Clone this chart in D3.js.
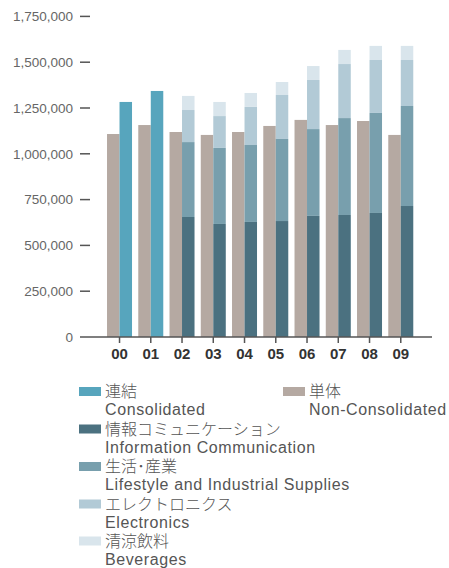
<!DOCTYPE html>
<html>
<head>
<meta charset="utf-8">
<script src="https://cdn.jsdelivr.net/npm/d3@7"></script>
<style>
  body { margin: 0; background: #fff; }
  svg { display: block; }
</style>
</head>
<body>
<div id="chart"></div>
<script>
// Data (yen, thousands)

var years = ["00", "01", "02", "03", "04", "05", "06", "07", "08", "09"];
var nonConsolidated = [1108000, 1157000, 1119000, 1103000, 1119000, 1152000, 1185000, 1157000, 1179000, 1103000];
var consolidated = [1283000, 1343000, null, null, null, null, null, null, null, null];
var infoComm = [null, null, 655000, 617000, 628000, 633000, 661000, 666000, 677000, 715000];
var lifestyle = [null, null, 409000, 415000, 420000, 448000, 474000, 529000, 546000, 546000];
var electronics = [null, null, 175000, 174000, 208000, 240000, 268000, 295000, 289000, 251000];
var beverages = [null, null, 77000, 77000, 76000, 71000, 76000, 77000, 77000, 77000];

var yTicks = [0, 250000, 500000, 750000, 1000000, 1250000, 1500000, 1750000];

var legendJa = ["連結", "単体", "情報コミュニケーション", "生活･産業", "エレクトロニクス", "清涼飲料"];
var legendEn = ["Consolidated", "Non-Consolidated", "Information Communication", "Lifestyle and Industrial Supplies", "Electronics", "Beverages"];

var colors = {
  consolidated: "#57a5bd",
  nonConsolidated: "#b5a9a2",
  info: "#4b7180",
  life: "#789fad",
  elec: "#b2cad6",
  bev: "#d9e5ec"
};
var legendColors = [colors.consolidated, colors.nonConsolidated, colors.info, colors.life, colors.elec, colors.bev];

var width = 449, height = 568;

var svg = d3.select("#chart")
  .append("svg")
  .attr("width", width)
  .attr("height", height);

svg.append("rect")
  .attr("width", width)
  .attr("height", height)
  .style("fill", "#fff");

var x = d3.scaleBand()
  .domain(years)
  .range([103.9, 416.4])
  .paddingInner(0.2)
  .paddingOuter(0.1);

var y = d3.scaleLinear()
  .domain([0, 1750000])
  .range([337, 16.4]);

var barW = x.bandwidth() / 2;

// stacked segments, only for years that have segment data
var rows = years.map(function(yr, i) {
  return {year: yr, info: infoComm[i], life: lifestyle[i], elec: electronics[i], bev: beverages[i]};
}).filter(function(d) { return d.info != null; });

var stack = d3.stack().keys(["info", "life", "elec", "bev"]);
var series = stack(rows);

// non-consolidated bars (left)
svg.append("g")
  .selectAll("rect")
  .data(years)
  .enter()
  .append("rect")
  .attr("x", function(d) { return x(d); })
  .attr("width", barW)
  .attr("y", function(d, i) { return y(nonConsolidated[i]); })
  .attr("height", function(d, i) { return y(0) - y(nonConsolidated[i]); })
  .style("fill", colors.nonConsolidated);

// consolidated bars (right), years 00-01
svg.append("g")
  .selectAll("rect")
  .data(years.filter(function(d, i) { return consolidated[i] != null; }))
  .enter()
  .append("rect")
  .attr("x", function(d) { return x(d) + barW; })
  .attr("width", barW)
  .attr("y", function(d) { return y(consolidated[years.indexOf(d)]); })
  .attr("height", function(d) { return y(0) - y(consolidated[years.indexOf(d)]); })
  .style("fill", colors.consolidated);

// segment stacks
svg.append("g")
  .selectAll("g")
  .data(series)
  .enter()
  .append("g")
  .style("fill", function(s) { return colors[s.key]; })
  .selectAll("rect")
  .data(function(s) { return s; })
  .enter()
  .append("rect")
  .attr("x", function(d) { return x(d.data.year) + barW; })
  .attr("width", barW)
  .attr("y", function(d) { return y(d[1]); })
  .attr("height", function(d) { return y(d[0]) - y(d[1]); });

// y axis: dashes + labels, no spine
var yAxis = svg.append("g").attr("class", "y axis");
yAxis.selectAll("line")
  .data(yTicks.filter(function(t) { return t > 0; }))
  .enter()
  .append("line")
  .attr("x1", 80)
  .attr("x2", 90)
  .attr("y1", function(d) { return y(d); })
  .attr("y2", function(d) { return y(d); })
  .style("stroke", "#555")
  .style("stroke-width", 1.5);

yAxis.selectAll("text")
  .data(yTicks)
  .enter()
  .append("text")
  .attr("x", 73)
  .attr("y", function(d) { return y(d); })
  .attr("dy", "0.35em")
  .attr("text-anchor", "end")
  .style("font-family", "'Liberation Sans', Arial, sans-serif")
  .style("font-size", "13.5px")
  .style("fill", "#666")
  .text(function(d) { return d3.format(",")(d); });

// x axis
var xAxis = d3.axisBottom(x).tickSize(6).tickSizeOuter(0);
var gx = svg.append("g")
  .attr("class", "x axis")
  .attr("transform", "translate(0," + y(0) + ")")
  .call(xAxis);
gx.select(".domain").remove();
gx.append("line")
  .attr("x1", 80)
  .attr("x2", 432)
  .style("stroke", "#555")
  .style("stroke-width", 1.5);
gx.selectAll(".tick line").style("stroke", "#555").style("stroke-width", 1.5);
gx.selectAll(".tick text")
  .attr("y", 11)
  .style("font-family", "'Liberation Sans', Arial, sans-serif")
  .style("font-size", "15px")
  .style("font-weight", "bold")
  .style("fill", "#333");

// legend
var legendPos = [
  {x: 79, y: 391.5}, {x: 283, y: 391.5},
  {x: 79, y: 429}, {x: 79, y: 466.5}, {x: 79, y: 504}, {x: 79, y: 541}
];

var legend = svg.append("g").attr("class", "legend");
var item = legend.selectAll("g")
  .data(legendJa)
  .enter()
  .append("g")
  .attr("transform", function(d, i) { return "translate(" + legendPos[i].x + "," + legendPos[i].y + ")"; });

item.append("rect")
  .attr("x", 0)
  .attr("y", -4.5)
  .attr("width", 22)
  .attr("height", 9)
  .style("fill", function(d, i) { return legendColors[i]; });

item.append("text")
  .attr("x", 26)
  .attr("y", 0)
  .attr("dy", "0.36em")
  .style("font-family", "'Noto Sans CJK JP', sans-serif")
  .style("font-size", "16px")
  .style("font-weight", 300)
  .style("fill", "#555")
  .text(function(d) { return d; });

item.append("text")
  .attr("x", 26)
  .attr("y", 18)
  .attr("dy", "0.36em")
  .style("font-family", "'Liberation Sans', Arial, sans-serif")
  .style("font-size", "16px")
  .style("letter-spacing", "0.6px")
  .style("fill", "#555")
  .text(function(d, i) { return legendEn[i]; });
</script>
</body>
</html>
